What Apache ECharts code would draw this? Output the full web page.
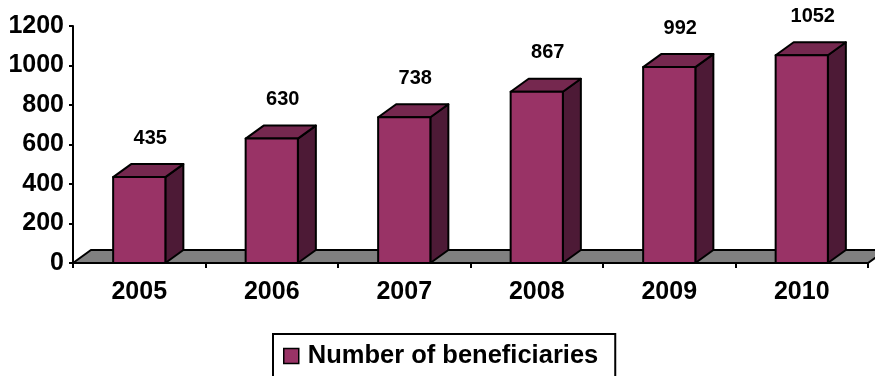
<!DOCTYPE html>
<html>
<head>
<meta charset="utf-8">
<script src="https://cdn.jsdelivr.net/npm/echarts@6/dist/echarts.min.js"></script>
<style>
html,body{margin:0;padding:0;background:#fff;}
#chart{width:875px;height:376px;}
</style>
</head>
<body>
<div id="chart"></div>
<script>
var categories = ['2005', '2006', '2007', '2008', '2009', '2010'];
var beneficiaries = [435, 630, 738, 867, 992, 1052];
var seriesName = 'Number of beneficiaries';
var yTicks = [0, 200, 400, 600, 800, 1000, 1200];

var FONT = '"Liberation Sans", Arial, sans-serif';
var DX = 18, DY = 13;

var chart = echarts.init(document.getElementById('chart'), null, {renderer: 'canvas'});

function floorItem(params, api) {
  var cs = params.coordSys;
  var x0 = cs.x, x1 = cs.x + cs.width, yb = cs.y + cs.height;
  return {
    type: 'polygon',
    shape: {points: [[x0, yb], [x0 + DX, yb - DY], [x1 + DX, yb - DY], [x1, yb]]},
    style: {fill: '#808080', stroke: '#000', lineWidth: 2}
  };
}

function barItem(params, api) {
  var idx = api.value(0), val = api.value(1);
  var top = api.coord([idx, val]);
  var base = api.coord([idx, 0]);
  var hw = api.size([1, 0])[0] * 0.197;
  var xl = top[0] - hw, xr = top[0] + hw, yt = top[1], yb = base[1];
  var st = {stroke: '#000', lineWidth: 2, lineJoin: 'round'};
  return {
    type: 'group',
    children: [
      {type: 'polygon', shape: {points: [[xr, yt], [xr + DX, yt - DY], [xr + DX, yb - DY], [xr, yb]]},
        style: Object.assign({fill: '#4d1a36'}, st)},
      {type: 'polygon', shape: {points: [[xl, yt], [xl + DX, yt - DY], [xr + DX, yt - DY], [xr, yt]]},
        style: Object.assign({fill: '#75284f'}, st)},
      {type: 'rect', shape: {x: xl, y: yt, width: xr - xl, height: yb - yt},
        style: Object.assign({fill: '#993366'}, st)},
      {type: 'text', x: top[0] + 11, y: yt - 39,
        style: {text: String(val), fill: '#000', font: 'bold 20px ' + FONT, textAlign: 'center', textVerticalAlign: 'middle'}}
    ]
  };
}

var option = {
  animation: false,
  backgroundColor: '#fff',
  grid: {left: 73, right: 7, top: 26, bottom: 113, containLabel: false},
  legend: {
    data: [{name: seriesName, icon: 'rect'}],
    left: 273, top: 334,
    padding: [9, 17, 30, 10],
    itemWidth: 15, itemHeight: 15,
    itemStyle: {color: '#993366', borderColor: '#000', borderWidth: 1.5},
    borderColor: '#000', borderWidth: 2,
    textStyle: {fontFamily: FONT, fontWeight: 'bold', fontSize: 25.5, color: '#000', padding: [0, 0, 0, 4]}
  },
  xAxis: {
    type: 'category',
    data: categories,
    boundaryGap: true,
    axisLine: {lineStyle: {color: '#000', width: 2}},
    axisTick: {show: true, length: 5, lineStyle: {color: '#000', width: 2}},
    axisLabel: {margin: 17, fontFamily: FONT, fontWeight: 'bold', fontSize: 25, color: '#000'},
    splitLine: {show: false},
    z: 10
  },
  yAxis: {
    type: 'value',
    min: yTicks[0], max: yTicks[yTicks.length - 1], interval: yTicks[1] - yTicks[0],
    axisLine: {show: true, lineStyle: {color: '#000', width: 2}},
    axisTick: {show: true, length: 4, lineStyle: {color: '#000', width: 2}},
    axisLabel: {margin: 9, fontFamily: FONT, fontWeight: 'bold', fontSize: 25, color: '#000',
      formatter: function (v) { return String(v); }},
    splitLine: {show: false}
  },
  series: [
    {
      type: 'custom',
      name: 'floor',
      renderItem: floorItem,
      data: [[0, 0]],
      z: 1,
      silent: true,
      clip: false
    },
    {
      type: 'custom',
      name: seriesName,
      renderItem: barItem,
      itemStyle: {color: '#993366', borderColor: '#000', borderWidth: 1.5},
      data: beneficiaries.map(function (v, i) { return [i, v]; }),
      encode: {x: 0, y: 1},
      z: 3,
      clip: false
    }
  ]
};
chart.setOption(option);
</script>
</body>
</html>
